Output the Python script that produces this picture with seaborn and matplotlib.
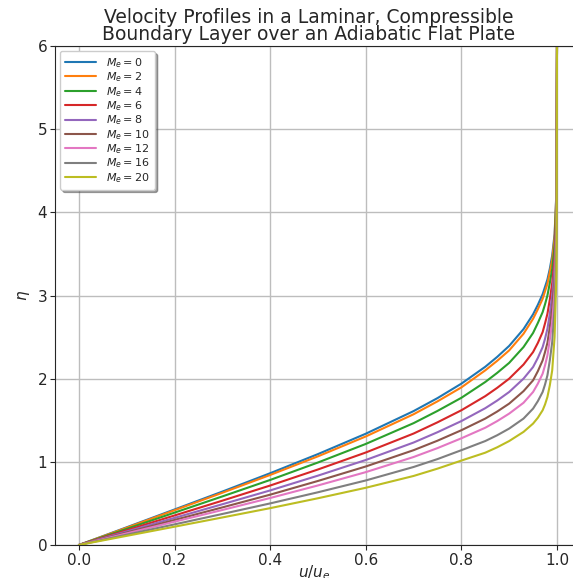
import numpy as np
import pandas as pd
import matplotlib
matplotlib.use("Agg")
import matplotlib.pyplot as plt
import seaborn as sns

# Mach numbers of the edge flow
mach = [0, 2, 4, 6, 8, 10, 12, 16, 20]

u_levels = [0.0, 0.1, 0.2, 0.3, 0.4, 0.5, 0.6, 0.7, 0.75, 0.8, 0.85, 0.875, 0.9,
            0.93, 0.95, 0.96, 0.97, 0.975, 0.98, 0.985, 0.99, 0.995, 0.999, 1.0]

# eta values for each Mach number (same order as u_levels)
eta_m0 = [0, 0.213, 0.427, 0.642, 0.863, 1.093, 1.338, 1.610, 1.766, 1.940, 2.143, 2.262, 2.394,
          2.596, 2.774, 2.888, 3.016, 3.104, 3.193, 3.321, 3.482, 3.740, 4.270, 6.0]
eta_m2 = [0, 0.208, 0.418, 0.628, 0.842, 1.066, 1.305, 1.572, 1.727, 1.895, 2.100, 2.215, 2.340,
          2.540, 2.720, 2.835, 2.960, 3.050, 3.140, 3.280, 3.430, 3.700, 4.250, 6.0]
eta_m4 = [0, 0.194, 0.389, 0.584, 0.782, 0.992, 1.215, 1.465, 1.612, 1.770, 1.960, 2.070, 2.190,
          2.380, 2.550, 2.670, 2.800, 2.895, 3.000, 3.150, 3.320, 3.600, 4.180, 6.0]
eta_m6 = [0, 0.177, 0.355, 0.533, 0.715, 0.908, 1.112, 1.340, 1.475, 1.620, 1.790, 1.890, 2.000,
          2.170, 2.320, 2.430, 2.560, 2.665, 2.780, 2.950, 3.150, 3.450, 4.100, 6.0]
eta_m8 = [0, 0.163, 0.326, 0.490, 0.656, 0.834, 1.022, 1.232, 1.356, 1.490, 1.645, 1.737, 1.840,
          2.000, 2.140, 2.250, 2.380, 2.480, 2.600, 2.780, 3.000, 3.350, 4.000, 6.0]
eta_m10 = [0, 0.150, 0.301, 0.452, 0.605, 0.770, 0.944, 1.140, 1.254, 1.380, 1.520, 1.605, 1.700,
           1.850, 1.980, 2.090, 2.220, 2.320, 2.430, 2.620, 2.850, 3.200, 3.900, 6.0]
eta_m12 = [0, 0.140, 0.280, 0.421, 0.565, 0.716, 0.876, 1.058, 1.165, 1.283, 1.410, 1.490, 1.580,
           1.710, 1.840, 1.940, 2.060, 2.160, 2.280, 2.470, 2.680, 3.050, 3.800, 6.0]
eta_m16 = [0, 0.124, 0.248, 0.373, 0.500, 0.634, 0.776, 0.938, 1.033, 1.140, 1.250, 1.320, 1.400,
           1.520, 1.640, 1.730, 1.840, 1.930, 2.040, 2.220, 2.440, 2.850, 3.600, 6.0]
eta_m20 = [0, 0.110, 0.220, 0.331, 0.443, 0.562, 0.688, 0.830, 0.918, 1.015, 1.110, 1.175, 1.250,
           1.360, 1.460, 1.530, 1.620, 1.690, 1.780, 1.920, 2.100, 2.500, 3.300, 6.0]

etas = [eta_m0, eta_m2, eta_m4, eta_m6, eta_m8, eta_m10, eta_m12, eta_m16, eta_m20]

rows = []
for m, eta in zip(mach, etas):
    for u, e in zip(u_levels, eta):
        rows.append({"u": u, "eta": e, "label": f"$M_e = {m}$"})
df = pd.DataFrame(rows)

sns.set_style("ticks")
plt.rcParams['font.family'] = ['DejaVu Sans']

fig = plt.figure(figsize=(5.73, 5.78), dpi=100)
# the original figure is cut at the right edge, so the axes run up to it
ax = fig.add_axes([0.096, 0.0571, 0.904, 0.8633])

sns.lineplot(data=df, x="u", y="eta", hue="label", palette="tab10",
             sort=False, estimator=None, linewidth=1.5, ax=ax)

ax.set_xlim(-0.05, 1.0335)
ax.set_ylim(0, 6)
ax.set_xticks([0.0, 0.2, 0.4, 0.6, 0.8, 1.0])
ax.spines["right"].set_visible(False)
ax.grid(True, color="#bdbdbd", linewidth=1.0)
ax.tick_params(labelsize=11, pad=2, length=3.5)
ax.set_xlabel("$u/u_e$", fontsize=11, labelpad=-3)
ax.set_ylabel("$\\eta$", fontsize=11)
ax.set_title("Velocity Profiles in a Laminar, Compressible\nBoundary Layer over an Adiabatic Flat Plate",
             fontsize=13.5, linespacing=0.9, pad=4, x=0.49)

handles, labels = ax.get_legend_handles_labels()
ax.legend(handles, labels, loc="upper left", fontsize=8, shadow=True,
          fancybox=True, framealpha=1, handlelength=2.8, handletextpad=0.9,
          labelspacing=0.05, borderaxespad=0.45, borderpad=0.45)

fig.savefig("out.png", dpi=100, facecolor="white")
